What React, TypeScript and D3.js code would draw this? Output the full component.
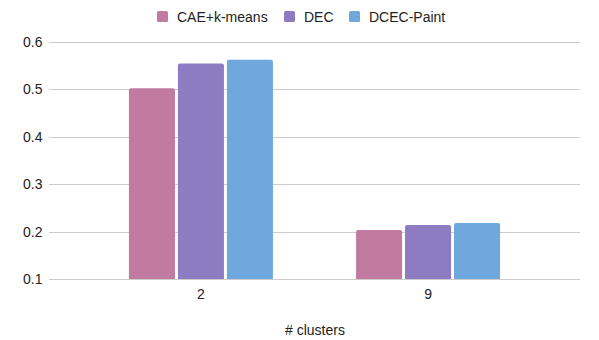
import React, { useEffect, useRef } from 'react';
import * as d3 from 'd3';

const categories = ['2', '9'];
const seriesNames = ['CAE+k-means', 'DEC', 'DCEC-Paint'];
const seriesColors = ['#c27ba0', '#8e7cc3', '#6fa8dc'];
const caeKmeans = [0.502, 0.203];
const dec = [0.554, 0.214];
const dcecPaint = [0.562, 0.218];
const yTicks = [0.1, 0.2, 0.3, 0.4, 0.5, 0.6];

const App = () => {
    const svgRef = useRef(null);

    useEffect(() => {
        const width = 599;
        const height = 340;
        const font = '"Liberation Sans", Arial, sans-serif';
        const values = [caeKmeans, dec, dcecPaint];

        const svg = d3.select(svgRef.current);
        svg.selectAll('*').remove();
        svg.attr('width', width).attr('height', height);

        const x = d3.scaleBand()
            .domain(categories)
            .range([49, 580])
            .paddingInner(0.366)
            .paddingOuter(0.352);

        const inner = d3.scaleBand()
            .domain(seriesNames)
            .range([0, x.bandwidth()])
            .paddingInner(0.06);

        const y = d3.scaleLinear()
            .domain([0.1, 0.6])
            .range([279, 41.7]);

        // gridlines
        svg.append('g')
            .selectAll('line')
            .data(yTicks)
            .enter()
            .append('line')
            .attr('x1', 49)
            .attr('x2', 580)
            .attr('y1', d => Math.round(y(d)) + 0.5)
            .attr('y2', d => Math.round(y(d)) + 0.5)
            .attr('stroke', '#cccccc')
            .attr('stroke-width', 1);

        svg.append('g')
            .selectAll('text')
            .data(yTicks)
            .enter()
            .append('text')
            .attr('x', 42.5)
            .attr('y', d => y(d) + 5)
            .attr('text-anchor', 'end')
            .attr('font-family', font)
            .attr('font-size', 14)
            .attr('fill', '#222')
            .text(d => d3.format('.1f')(d));

        // bars
        const groups = svg.selectAll('.grp')
            .data(categories)
            .enter()
            .append('g')
            .attr('transform', d => `translate(${x(d)},0)`);

        groups.selectAll('path')
            .data((d, i) => seriesNames.map((s, j) => ({ s, j, v: values[j][i] })))
            .enter()
            .append('path')
            .attr('fill', d => seriesColors[d.j])
            .attr('d', d => {
                const x0 = inner(d.s);
                const w = inner.bandwidth();
                const top = y(d.v);
                const bottom = y(0.1);
                const r = 2;
                return `M${x0},${bottom} L${x0},${top + r} Q${x0},${top} ${x0 + r},${top} L${x0 + w - r},${top} Q${x0 + w},${top} ${x0 + w},${top + r} L${x0 + w},${bottom} Z`;
            });

        // x labels
        svg.append('g')
            .selectAll('text')
            .data(categories)
            .enter()
            .append('text')
            .attr('x', d => x(d) + x.bandwidth() / 2)
            .attr('y', 299)
            .attr('text-anchor', 'middle')
            .attr('font-family', font)
            .attr('font-size', 14)
            .attr('fill', '#222')
            .text(d => d);

        svg.append('text')
            .attr('x', 315)
            .attr('y', 335)
            .attr('text-anchor', 'middle')
            .attr('font-family', font)
            .attr('font-size', 14)
            .attr('fill', '#222')
            .text('# clusters');

        // legend
        const legendX = [157, 284, 349];
        const legend = svg.append('g');
        seriesNames.forEach((s, i) => {
            legend.append('rect')
                .attr('x', legendX[i])
                .attr('y', 11)
                .attr('width', 11)
                .attr('height', 11)
                .attr('rx', 1.5)
                .attr('fill', seriesColors[i]);
            legend.append('text')
                .attr('x', legendX[i] + 20)
                .attr('y', 21.5)
                .attr('font-family', font)
                .attr('font-size', 14)
                .attr('fill', '#222')
                .text(s);
        });
    }, []);

    return (
        <div style={{ position: 'absolute', left: 0, top: 0 }}>
            <svg ref={svgRef}></svg>
        </div>
    );
};

export default App;
